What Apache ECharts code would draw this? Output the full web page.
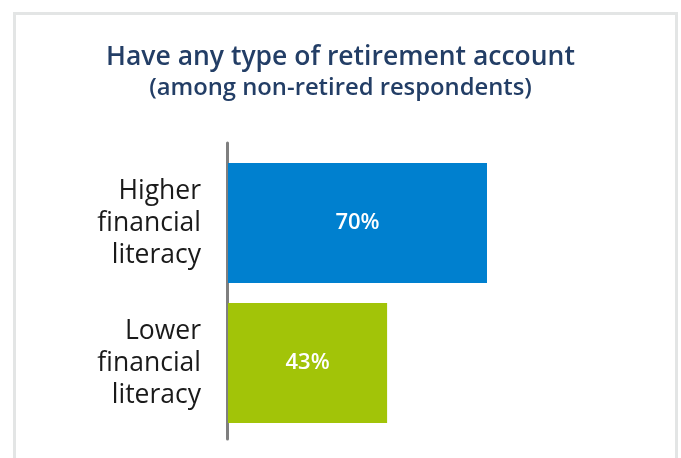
<!DOCTYPE html>
<html>
<head>
<meta charset="utf-8">
<script src="https://cdn.jsdelivr.net/npm/echarts@6/dist/echarts.min.js"></script>
<style>
  html, body { margin: 0; padding: 0; background: #fff; }
  .frame {
    position: absolute;
    left: 13px;
    top: 12px;
    width: 659px;
    height: 460px;
    border: 3px solid #e3e5e5;
    border-bottom: none;
  }
  #chart { position: absolute; left: 0; top: 0; width: 681px; height: 458px; }
</style>
</head>
<body>
<div class="frame"></div>
<div id="chart"></div>
<script>
// data
const categories = ['Higher\nfinancial\nliteracy', 'Lower\nfinancial\nliteracy']
const values = [70, 43]
const barColors = ['#0080cf', '#a2c408']

const chart = echarts.init(document.getElementById('chart'))

const option = {
  animation: false,
  title: [
    {
      text: 'Have any type of retirement account',
      left: 'center',
      top: 39,
      textStyle: {
        fontFamily: 'Open Sans',
        fontSize: 26.5,
        fontWeight: 600,
        color: '#233e66'
      }
    },
    {
      text: '(among non-retired respondents)',
      left: 'center',
      top: 71,
      textStyle: {
        fontFamily: 'Open Sans',
        fontSize: 23.8,
        fontWeight: 600,
        color: '#233e66'
      }
    }
  ],
  grid: [
    // bars
    { left: 228, right: 83, top: 153, bottom: 25 },
    // only for the taller axis line
    { left: 227, right: 83, top: 143, bottom: 19 }
  ],
  xAxis: [
    { type: 'value', gridIndex: 0, min: 0, max: 100, show: false },
    { type: 'value', gridIndex: 1, min: 0, max: 100, show: false }
  ],
  yAxis: [
    {
      type: 'category',
      gridIndex: 0,
      data: categories,
      inverse: true,
      axisLine: { show: false },
      axisTick: { show: false },
      axisLabel: {
        margin: 27,
        fontFamily: 'Open Sans',
        fontSize: 26.5,
        lineHeight: 32,
        color: '#1a1a1a',
        align: 'right'
      }
    },
    {
      type: 'category',
      gridIndex: 1,
      data: categories,
      axisLine: { show: true, lineStyle: { color: '#7f7f7f', width: 3 } },
      axisTick: { show: false },
      axisLabel: { show: false }
    }
  ],
  series: [
    {
      type: 'bar',
      xAxisIndex: 0,
      yAxisIndex: 0,
      barWidth: 120,
      data: values.map((v, i) => ({ value: v, itemStyle: { color: barColors[i] } })),
      label: {
        show: true,
        position: 'inside',
        formatter: '{c}%',
        fontFamily: 'Open Sans',
        fontSize: 22,
        fontWeight: 600,
        color: '#ffffff'
      }
    }
  ]
}

chart.setOption(option)
</script>
</body>
</html>
